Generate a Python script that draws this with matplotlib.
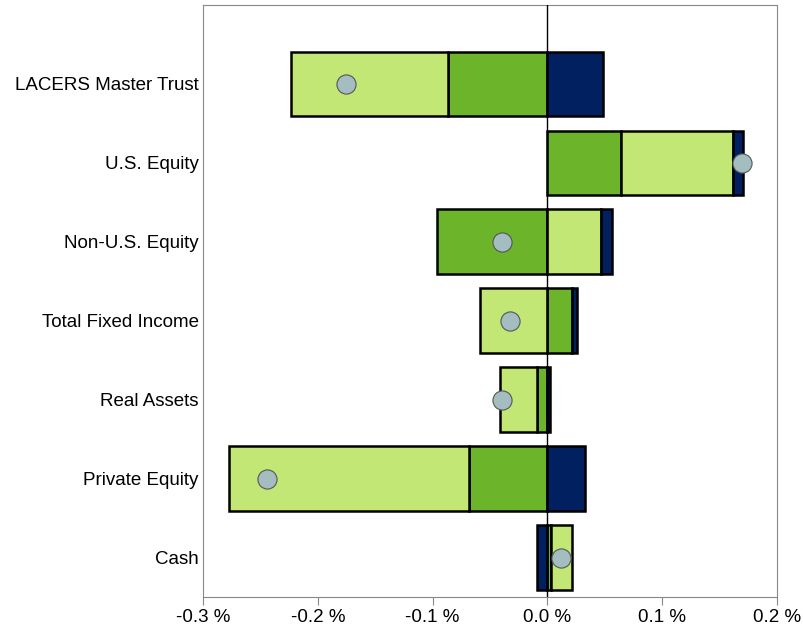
import matplotlib.pyplot as plt
import numpy as np

plt.rcParams['font.family'] = ['Liberation Sans', 'DejaVu Sans']

# 类别（从上到下）
categories = ['LACERS Master Trust', 'U.S. Equity', 'Non-U.S. Equity',
              'Total Fixed Income', 'Real Assets', 'Private Equity', 'Cash']

# 各效应（%）
allocation = [-0.087, 0.064, -0.096, 0.021, -0.009, -0.0685, 0.003]
selection = [-0.136, 0.0975, 0.047, -0.059, -0.0325, -0.2085, 0.018]
interaction = [0.048, 0.009, 0.0097, 0.005, 0.0027, 0.033, -0.0088]
total = [-0.1755, 0.1697, -0.0398, -0.033, -0.0398, -0.2445, 0.0122]

xticks = [-0.3, -0.2, -0.1, 0.0, 0.1, 0.2]

fig = plt.figure(figsize=(8.04, 6.31), dpi=100)
ax = fig.add_axes([203 / 804, 1 - 597 / 631, 574 / 804, 592 / 631])

y = np.arange(len(categories))
pos_base = np.zeros(len(categories))
neg_base = np.zeros(len(categories))
for vals, color in [(allocation, '#6cb52a'), (selection, '#c2e774'), (interaction, '#002060')]:
    vals = np.array(vals)
    left = np.where(vals >= 0, pos_base, neg_base)
    ax.barh(y, vals, left=left, height=0.82, color=color,
            edgecolor='black', linewidth=1.8, zorder=2)
    pos_base = pos_base + np.clip(vals, 0, None)
    neg_base = neg_base + np.clip(vals, None, 0)

ax.axvline(0, color='black', linewidth=1, zorder=3)
ax.scatter(total, y, s=190, color='#a3bdc0', edgecolor='#555555', linewidth=0.8, zorder=4)

ax.set_xlim(-0.3, 0.2)
ax.set_ylim(6.5, -1.0)
ax.set_xticks(xticks)
ax.set_xticklabels(['%.1f %%' % t for t in xticks], fontsize=13.5)
ax.set_yticks(y)
ax.set_yticklabels(categories, fontsize=13.5)
ax.tick_params(axis='y', length=0, pad=3)
ax.tick_params(axis='x', length=6, color='#888888', pad=3)
for s in ax.spines.values():
    s.set_color('#888888')

fig.savefig('out.png', dpi=100)
